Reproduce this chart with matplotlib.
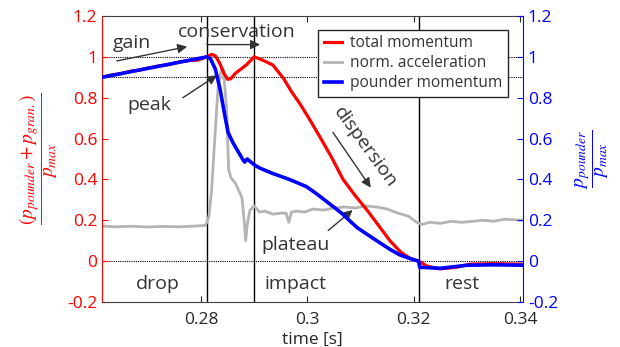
import matplotlib
matplotlib.use("Agg")
from matplotlib import pyplot as plt

plt.rcParams['font.family'] = ['Open Sans', 'DejaVu Sans']
plt.rcParams['mathtext.fontset'] = 'stix'

# data
t_total = [0.2614, 0.2630, 0.2650, 0.2668, 0.2685, 0.2700, 0.2720, 0.2740, 0.2760, 0.2780, 0.2795,
           0.2811, 0.2820, 0.2827, 0.2835, 0.2843, 0.2850, 0.2856, 0.2865, 0.2875, 0.2885, 0.2900,
           0.2915, 0.2935, 0.2955, 0.2970, 0.2986, 0.3005, 0.3023, 0.3045, 0.3067, 0.3090, 0.3112,
           0.3135, 0.3155, 0.3175, 0.3192, 0.3209, 0.3225, 0.3250, 0.3280, 0.3305, 0.3350, 0.3405]
total = [0.900, 0.910, 0.918, 0.930, 0.935, 0.945, 0.955, 0.962, 0.975, 0.982, 0.985,
         1.000, 1.012, 1.005, 0.970, 0.920, 0.890, 0.893, 0.920, 0.940, 0.960, 1.000,
         0.985, 0.960, 0.895, 0.830, 0.770, 0.690, 0.610, 0.510, 0.400, 0.320, 0.250,
         0.170, 0.100, 0.045, 0.015, 0.000, -0.025, -0.038, -0.030, -0.015, -0.012, -0.015]

t_acc = [0.2614, 0.2640, 0.2670, 0.2700, 0.2730, 0.2760, 0.2790, 0.2808, 0.2811, 0.2815, 0.2820,
         0.2826, 0.2832, 0.2838, 0.2842, 0.2848, 0.2852, 0.2856, 0.2865, 0.2872, 0.2877, 0.2881,
         0.2884, 0.2887, 0.2892, 0.2900, 0.2910, 0.2920, 0.2935, 0.2950, 0.2960, 0.2965, 0.2970,
         0.2980, 0.2995, 0.3010, 0.3030, 0.3050, 0.3070, 0.3090, 0.3110, 0.3130, 0.3150, 0.3170,
         0.3190, 0.3205, 0.3215, 0.3230, 0.3250, 0.3270, 0.3290, 0.3310, 0.3330, 0.3350, 0.3370,
         0.3405]
acc = [0.172, 0.168, 0.171, 0.167, 0.170, 0.168, 0.172, 0.175, 0.190, 0.220, 0.350,
       0.600, 0.850, 0.935, 0.940, 0.750, 0.450, 0.410, 0.380, 0.340, 0.310, 0.200,
       0.100, 0.180, 0.250, 0.270, 0.240, 0.245, 0.230, 0.235, 0.235, 0.190, 0.240,
       0.245, 0.240, 0.255, 0.250, 0.260, 0.265, 0.260, 0.270, 0.265, 0.255, 0.235,
       0.220, 0.190, 0.180, 0.190, 0.185, 0.195, 0.190, 0.195, 0.200, 0.195, 0.205,
       0.200]

t_pounder = [0.2614, 0.2811, 0.2818, 0.2827, 0.2836, 0.2845, 0.2851, 0.2860, 0.2878, 0.2882,
             0.2887, 0.2896, 0.2904, 0.2911, 0.2934, 0.2966, 0.2998, 0.3017, 0.3042, 0.3064,
             0.3093, 0.3110, 0.3136, 0.3155, 0.3174, 0.3198, 0.3209, 0.3211, 0.3250, 0.3300,
             0.3350, 0.3405]
pounder = [0.900, 1.000, 0.990, 0.940, 0.840, 0.710, 0.630, 0.580, 0.500, 0.485,
           0.500, 0.480, 0.465, 0.455, 0.430, 0.400, 0.365, 0.330, 0.280, 0.235,
           0.165, 0.135, 0.090, 0.058, 0.030, 0.008, 0.000, -0.030, -0.035, -0.020,
           -0.018, -0.020]

phase_lines = [0.2811, 0.2900, 0.3210]
phase_names = ['drop', 'impact', 'rest']
phase_pos = [0.2719, 0.2978, 0.3290]
ref_levels = [1.0, 0.9, 0.0]

x_ticks = [0.28, 0.30, 0.32, 0.34]
x_labels = ['0.28', '0.3', '0.32', '0.34']
y_ticks = [-0.2, 0.0, 0.2, 0.4, 0.6, 0.8, 1.0, 1.2]
y_labels = ['-0.2', '0', '0.2', '0.4', '0.6', '0.8', '1', '1.2']

red = '#ff0000'
blue = '#0000ff'
gray = '#b4b4b4'
txt = '#333333'

fig = plt.figure(figsize=(6.2, 3.47), dpi=100)
ax = fig.add_axes([0.1645, 0.1297, 0.679, 0.8242])

for lvl in ref_levels:
    ax.axhline(lvl, color='black', lw=0.8, ls=(0, (1, 1)), zorder=1)
for xv in phase_lines:
    ax.axvline(xv, color='black', lw=1.0, zorder=1)

ax.plot(t_total, total, color=red, lw=2.3, label='total momentum', zorder=3)
ax.plot(t_acc, acc, color=gray, lw=2.0, label='norm. acceleration', zorder=2)
ax.plot(t_pounder, pounder, color=blue, lw=2.6, label='pounder momentum', zorder=4)

ax.set_xlim(0.2614, 0.3405)
ax.set_ylim(-0.2, 1.2)
ax.set_xticks(x_ticks)
ax.set_xticklabels(x_labels)
ax.set_yticks(y_ticks)
ax.set_yticklabels(y_labels)
ax.tick_params(axis='x', direction='in', top=True, length=4, colors='#262626', labelsize=12.5, pad=7)
ax.tick_params(axis='y', direction='in', length=4, colors=red, labelsize=12.5)
ax.set_xlabel('time [s]', fontsize=12.5, color='#262626', labelpad=3)
ax.set_ylabel(r'$\dfrac{(p_{pounder}+p_{gran.})}{p_{max}}$', color=red, fontsize=14)
ax.yaxis.set_label_coords(-0.1, 0.5)

ax.spines['left'].set_color(red)
ax.spines['right'].set_visible(False)
for s in ['top', 'bottom']:
    ax.spines[s].set_color('#404040')

ax2 = ax.twinx()
ax2.set_ylim(-0.2, 1.2)
ax2.set_yticks(y_ticks)
ax2.set_yticklabels(y_labels)
ax2.tick_params(axis='y', direction='in', length=4, colors=blue, labelsize=12.5)
for s in ['left', 'top', 'bottom']:
    ax2.spines[s].set_visible(False)
ax2.spines['right'].set_color(blue)
ax2.set_ylabel(r'$\dfrac{p_{pounder}}{p_{max}}$', color=blue, fontsize=14)
ax2.yaxis.set_label_coords(1.119, 0.5)

leg = ax.legend(loc='upper right', bbox_to_anchor=(0.964, 0.951), borderaxespad=0, fontsize=11.2,
                handlelength=1.2, handletextpad=0.5, borderpad=0.35, labelspacing=0.25,
                fancybox=False, framealpha=1, edgecolor='#262626')
leg.get_frame().set_linewidth(1.0)
for t in leg.get_texts():
    t.set_color(txt)

arrow = dict(arrowstyle='-|>', color=txt, lw=1.0, mutation_scale=14, shrinkA=0, shrinkB=0)
fs = 14
ax.annotate('', xy=(0.2774, 1.05), xytext=(0.2642, 0.98), arrowprops=arrow)
ax.text(0.2670, 1.07, 'gain', fontsize=fs, color=txt, ha='center', va='center')
ax.annotate('', xy=(0.2911, 1.06), xytext=(0.2811, 1.06), arrowprops=arrow)
ax.text(0.2868, 1.12, 'conservation', fontsize=fs, color=txt, ha='center', va='center')
ax.annotate('', xy=(0.2830, 0.91), xytext=(0.2766, 0.80), arrowprops=arrow)
ax.text(0.2702, 0.765, 'peak', fontsize=fs, color=txt, ha='center', va='center')
ax.annotate('', xy=(0.3085, 0.25), xytext=(0.3039, 0.15), arrowprops=arrow)
ax.text(0.2978, 0.08, 'plateau', fontsize=fs, color=txt, ha='center', va='center')
ax.annotate('', xy=(0.3119, 0.36), xytext=(0.3048, 0.63), arrowprops=arrow)
ax.text(0.3108, 0.56, 'dispersion', fontsize=fs, color=txt, ha='center', va='center',
        rotation=-54, rotation_mode='anchor')
for name, pos in zip(phase_names, phase_pos):
    ax.text(pos, -0.11, name, fontsize=fs, color=txt, ha='center', va='center')

fig.savefig('out.png', dpi=100)
